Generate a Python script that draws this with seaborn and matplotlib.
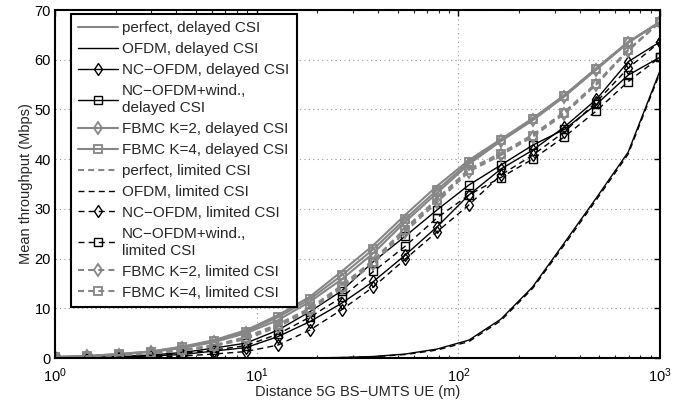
import numpy as np
import pandas as pd
import matplotlib
matplotlib.use("Agg")
import matplotlib.pyplot as plt
import seaborn as sns
from matplotlib.ticker import LogLocator, NullFormatter

# ---------------- data ----------------
distance = np.logspace(0, 3, 20)  # 5G BS - UMTS UE distance (m)

perfect_delayed = [0.2, 0.4, 0.8, 1.3, 2.3, 3.6, 5.6, 8.6, 12.3, 17.4, 22.7, 28.8, 34.6, 39.8, 44.0, 48.2, 52.9, 58.3, 63.6, 67.6]
ofdm_delayed    = [0.0, 0.0, 0.0, 0.0, 0.0, 0.0, 0.0, 0.01, 0.03, 0.1, 0.3, 0.8, 1.8, 3.6, 7.8, 14.3, 23.2, 32.2, 41.4, 57.8]
nc_delayed      = [0.05, 0.1, 0.2, 0.4, 0.7, 1.4, 2.1, 4.3, 7.3, 11.0, 15.4, 20.7, 26.4, 32.8, 38.0, 41.8, 46.5, 52.0, 59.6, 63.6]
ncw_delayed     = [0.05, 0.15, 0.3, 0.6, 1.1, 2.0, 3.0, 5.6, 9.3, 13.5, 19.4, 24.5, 29.8, 34.8, 38.8, 42.8, 46.0, 51.0, 56.9, 60.5]
fbmc2_delayed   = [0.2, 0.35, 0.7, 1.2, 2.0, 3.2, 5.0, 7.6, 11.3, 15.8, 21.1, 27.4, 33.2, 39.0, 43.6, 47.8, 52.6, 58.0, 63.4, 67.6]
fbmc4_delayed   = [0.2, 0.4, 0.8, 1.3, 2.2, 3.4, 5.3, 8.2, 11.8, 16.6, 21.9, 28.0, 33.8, 39.4, 43.8, 48.0, 52.8, 58.2, 63.5, 67.6]

perfect_limited = [0.1, 0.3, 0.6, 1.0, 1.6, 2.6, 4.2, 6.8, 10.0, 14.6, 19.7, 26.1, 32.0, 38.0, 41.2, 44.9, 49.5, 55.3, 62.0, 67.6]
ofdm_limited    = [0.0, 0.0, 0.0, 0.0, 0.0, 0.0, 0.0, 0.01, 0.02, 0.08, 0.25, 0.7, 1.6, 3.3, 7.5, 14.0, 22.8, 31.8, 41.0, 57.4]
nc_limited      = [0.0, 0.05, 0.1, 0.2, 0.4, 0.8, 1.3, 2.6, 5.6, 9.7, 14.3, 19.9, 25.4, 30.8, 36.8, 40.8, 45.5, 51.5, 58.3, 63.6]
ncw_limited     = [0.05, 0.1, 0.25, 0.5, 0.9, 1.6, 2.5, 4.8, 8.2, 12.2, 17.4, 22.5, 28.2, 32.8, 36.3, 40.0, 44.5, 49.7, 55.6, 60.5]
fbmc2_limited   = [0.1, 0.25, 0.5, 0.9, 1.5, 2.4, 3.8, 6.3, 9.5, 14.0, 19.0, 25.4, 31.3, 37.5, 40.8, 44.5, 49.1, 55.0, 61.8, 67.6]
fbmc4_limited   = [0.1, 0.3, 0.6, 1.0, 1.6, 2.5, 4.0, 6.6, 9.8, 14.3, 19.4, 25.8, 31.7, 37.8, 41.0, 44.7, 49.3, 55.1, 61.9, 67.6]

labels = [
    "perfect, delayed CSI",
    "OFDM, delayed CSI",
    "NC\u2212OFDM, delayed CSI",
    "NC\u2212OFDM+wind.,\ndelayed CSI",
    "FBMC K=2, delayed CSI",
    "FBMC K=4, delayed CSI",
    "perfect, limited CSI",
    "OFDM, limited CSI",
    "NC\u2212OFDM, limited CSI",
    "NC\u2212OFDM+wind.,\nlimited CSI",
    "FBMC K=2, limited CSI",
    "FBMC K=4, limited CSI",
]
series = [perfect_delayed, ofdm_delayed, nc_delayed, ncw_delayed, fbmc2_delayed, fbmc4_delayed,
          perfect_limited, ofdm_limited, nc_limited, ncw_limited, fbmc2_limited, fbmc4_limited]

y_ticks = [0, 10, 20, 30, 40, 50, 60, 70]
x_ticks = [1, 10, 100, 1000]
x_tick_labels = [r"$10^0$", r"$10^1$", r"$10^2$", r"$10^3$"]

# ---------------- styles ----------------
GRAY = "#868686"
BLACK = "#000000"
GLW = 1.5
BLW = 1.0
styles = [
    dict(color=GRAY, lw=GLW, dash=False, marker=None),
    dict(color=BLACK, lw=BLW, dash=False, marker=None),
    dict(color=BLACK, lw=BLW, dash=False, marker="d"),
    dict(color=BLACK, lw=BLW, dash=False, marker="s"),
    dict(color=GRAY, lw=GLW, dash=False, marker="d"),
    dict(color=GRAY, lw=GLW, dash=False, marker="s"),
    dict(color=GRAY, lw=GLW, dash=True, marker=None),
    dict(color=BLACK, lw=BLW, dash=True, marker=None),
    dict(color=BLACK, lw=BLW, dash=True, marker="d"),
    dict(color=BLACK, lw=BLW, dash=True, marker="s"),
    dict(color=GRAY, lw=GLW, dash=True, marker="d"),
    dict(color=GRAY, lw=GLW, dash=True, marker="s"),
]

sns.set_theme(style="white")
plt.rcParams["font.family"] = ["Liberation Sans", "DejaVu Sans"]
plt.rcParams["mathtext.fontset"] = "custom"
plt.rcParams["mathtext.rm"] = "Liberation Sans"
plt.rcParams["mathtext.it"] = "Liberation Sans"

fig = plt.figure(figsize=(6.84, 4.05), dpi=100)
ax = fig.add_axes([55 / 684, 47 / 405, 605 / 684, 348 / 405])

for lab, ys, st in zip(labels, series, styles):
    df = pd.DataFrame({"distance": distance, "throughput": ys})
    kws = dict(color=st["color"], linewidth=st["lw"], label=lab)
    if st["dash"]:
        kws["linestyle"] = (0, (4.3 / st["lw"], 3.0 / st["lw"]))
    else:
        kws["linestyle"] = "-"
    if st["marker"]:
        kws.update(marker=st["marker"], markersize=6.5 if st["marker"] == "d" else 5.5,
                   markerfacecolor="none", markeredgecolor=st["color"],
                   markeredgewidth=1.0 if st["color"] == BLACK else 1.3)
    else:
        kws.update(marker="", markeredgecolor=st["color"], markeredgewidth=1.0)
    sns.lineplot(data=df, x="distance", y="throughput", ax=ax, legend=False,
                 estimator=None, sort=False, **kws)

ax.set_xscale("log")
ax.set_xlim(1, 1000)
ax.set_ylim(0, 70)
ax.set_xticks(x_ticks)
ax.set_xticklabels(x_tick_labels)
ax.xaxis.set_minor_locator(LogLocator(base=10, subs=np.arange(2, 10)))
ax.xaxis.set_minor_formatter(NullFormatter())
ax.set_yticks(y_ticks)
ax.set_yticklabels([str(v) for v in y_ticks])

ax.grid(True, which="major", linestyle=(0, (1, 3)), color="#999999", linewidth=0.8)
ax.tick_params(axis="both", which="major", direction="in", length=4, width=1.0,
               top=True, right=True, labelsize=10.5, colors="black", pad=3)
ax.tick_params(axis="x", which="major", pad=6)
ax.tick_params(axis="x", which="minor", direction="in", length=2.5, width=0.8,
               top=True, bottom=True)
for sp in ax.spines.values():
    sp.set_visible(True)
    sp.set_color("black")
    sp.set_linewidth(1.5)

ax.set_xlabel("Distance 5G BS\u2212UMTS UE (m)", fontsize=10.5, labelpad=0)
ax.set_ylabel("Mean throughput (Mbps)", fontsize=10.5, labelpad=1)

leg = ax.legend(loc="upper left", bbox_to_anchor=(0.026, 0.989), fontsize=11,
                frameon=True, fancybox=False, framealpha=1, edgecolor="black",
                handlelength=2.6, handletextpad=0.25, labelspacing=0.45,
                borderpad=0.5, borderaxespad=0, numpoints=1)
leg.get_frame().set_linewidth(1.5)
for t in leg.get_texts():
    t.set_linespacing(1.3)

fig.savefig("out.png", dpi=100)
